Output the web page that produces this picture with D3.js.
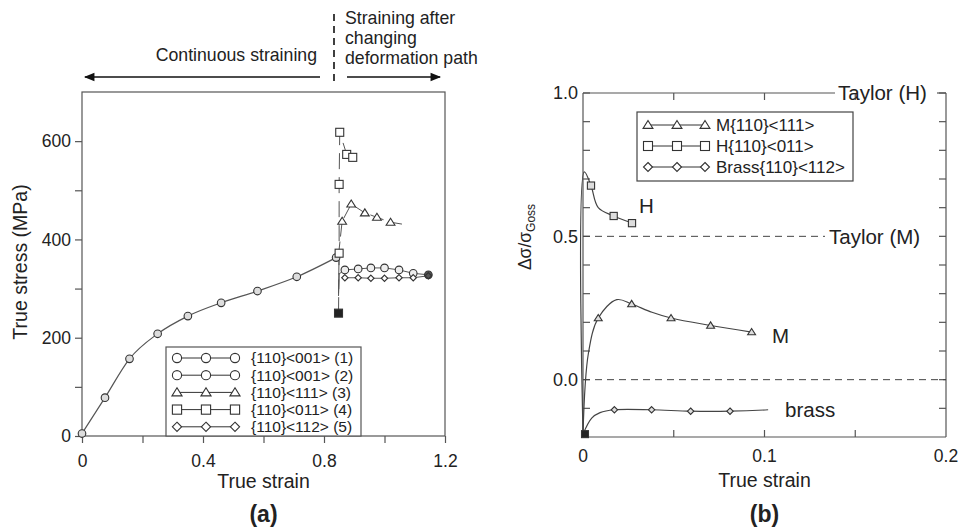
<!DOCTYPE html>
<html>
<head>
<script src="https://d3js.org/d3.v7.min.js"></script>
<style>
  body { margin: 0; background: #fff; font-family: "Liberation Sans", Arial, sans-serif; }
  svg text { fill: #222; }
</style>
</head>
<body>
<svg id="chart" width="960" height="531"></svg>
<script>
// ---------- data: panel (a) ----------
const contStrain = [0, 0.076, 0.157, 0.25, 0.35, 0.46, 0.58, 0.71, 0.84];
const contStress = [5, 78, 157, 208, 244, 271, 295, 324, 363];

const circStrain = [0.848, 0.85, 0.869, 0.913, 0.955, 1.0, 1.048, 1.095, 1.145];
const circStress = [285, 330, 338, 340, 342, 342, 338, 331, 328];

const diamStrain = [0.869, 0.913, 0.955, 1.0, 1.048, 1.095, 1.145];
const diamStress = [322, 322, 321, 321, 322, 322, 326];

const triStrain = [0.848, 0.85, 0.86, 0.89, 0.935, 0.975, 1.02, 1.06];
const triStress = [290, 380, 437, 472, 454, 445, 435, 431];
const triMarks = [false, false, true, true, true, true, true, false];

const sqStrain = [0.848, 0.85, 0.85, 0.852, 0.875, 0.895];
const sqStress = [250, 372, 512, 618, 573, 567];

const legendA = ["{110}<001> (1)", "{110}<001> (2)", "{110}<111> (3)", "{110}<011> (4)", "{110}<112> (5)"];
const legendAShapes = ["circle", "circle", "triangle", "square", "diamond"];

// ---------- data: panel (b) ----------
const hStrain = [0, 0.0007, 0.0044, 0.0084, 0.0169, 0.027, 0.0286];
const hRatio = [-0.19, 0.725, 0.677, 0.60, 0.571, 0.546, 0.541];
const hMarks = [false, false, true, false, true, true, false];

const mStrain = [0, 0.003, 0.0084, 0.0186, 0.0268, 0.038, 0.0485, 0.0703, 0.0929];
const mRatio = [-0.19, 0.093, 0.215, 0.279, 0.264, 0.235, 0.215, 0.189, 0.166];
const mMarks = [false, false, true, false, true, false, true, true, true];

const bStrain = [0, 0.0048, 0.0094, 0.0173, 0.0378, 0.0593, 0.081, 0.102];
const bRatio = [-0.19, -0.134, -0.115, -0.105, -0.105, -0.11, -0.11, -0.105];
const bMarks = [false, false, false, true, true, true, true, false];

const legendB = ["M{110}<111>", "H{110}<011>", "Brass{110}<112>"];
const legendBShapes = ["triangle", "square", "diamond"];

const svg = d3.select("#chart");
const lineCol = "#555", axisCol = "#555";

function zip(xs, ys) { return xs.map((x, i) => [x, ys[i]]); }

function marker(g, shape, cx, cy, s, fill) {
    fill = fill || "#fff";
    let el;
    if (shape === "circle") {
        el = g.append("circle").attr("cx", cx).attr("cy", cy).attr("r", s);
    } else if (shape === "square") {
        el = g.append("rect").attr("x", cx - s).attr("y", cy - s).attr("width", 2 * s).attr("height", 2 * s);
    } else if (shape === "triangle") {
        el = g.append("path").attr("d", `M${cx},${cy - s}L${cx + s * 1.1},${cy + s * 0.75}L${cx - s * 1.1},${cy + s * 0.75}Z`);
    } else {
        el = g.append("path").attr("d", `M${cx},${cy - s}L${cx + s},${cy}L${cx},${cy + s}L${cx - s},${cy}Z`);
    }
    el.attr("fill", fill).attr("stroke", "#333").attr("stroke-width", 1.1);
}

// =============== panel (a) ===============
const xA = d3.scaleLinear().domain([0, 1.2]).range([82, 445]);
const yA = d3.scaleLinear().domain([0, 700]).range([436, 92]);
const gA = svg.append("g");

// frame
gA.append("rect").attr("x", 82).attr("y", 92).attr("width", 445 - 82).attr("height", 436 - 92)
    .attr("fill", "none").attr("stroke", axisCol).attr("stroke-width", 1.2);

const axA = gA.append("g").attr("transform", "translate(0,436)")
    .call(d3.axisBottom(xA).tickValues([0, 0.2, 0.4, 0.6, 0.8, 1.0, 1.2]).tickSize(7).tickFormat(d => [0, 0.4, 0.8, 1.2].some(v => Math.abs(v - d) < 1e-9) ? d3.format("~g")(d) : ""));
axA.select(".domain").remove();
axA.selectAll("line").attr("stroke", axisCol).attr("stroke-width", 1.2);
axA.selectAll("text").attr("font-size", 17.5).attr("dy", "1.2em").style("fill", "#222");

const ayA = gA.append("g").attr("transform", "translate(82,0)")
    .call(d3.axisLeft(yA).tickValues([0, 100, 200, 300, 400, 500, 600]).tickSize(7).tickFormat(d => d % 200 === 0 ? d : ""));
ayA.select(".domain").remove();
ayA.selectAll("line").attr("stroke", axisCol).attr("stroke-width", 1.2);
ayA.selectAll("text").attr("font-size", 17.5).attr("x", -11).style("fill", "#222");

const lineA = d3.line().x(d => xA(d[0])).y(d => yA(d[1]));
const smoothA = d3.line().x(d => xA(d[0])).y(d => yA(d[1])).curve(d3.curveMonotoneX);

gA.append("path").attr("d", smoothA(zip(contStrain, contStress))).attr("fill", "none").attr("stroke", lineCol).attr("stroke-width", 1.2);
gA.append("path").attr("d", lineA(zip(circStrain, circStress))).attr("fill", "none").attr("stroke", lineCol).attr("stroke-width", 1);
gA.append("path").attr("d", lineA(zip(diamStrain, diamStress))).attr("fill", "none").attr("stroke", lineCol).attr("stroke-width", 1);
gA.append("path").attr("d", lineA(zip(triStrain, triStress))).attr("fill", "none").attr("stroke", lineCol).attr("stroke-width", 1).attr("stroke-dasharray", "14,5");
gA.append("path").attr("d", lineA(zip(sqStrain, sqStress))).attr("fill", "none").attr("stroke", lineCol).attr("stroke-width", 1).attr("stroke-dasharray", "16,8");

contStrain.forEach((s, i) => marker(gA, "circle", xA(s), yA(contStress[i]), 3.8, "#ddd"));
circStrain.forEach((s, i) => { if (i > 1) marker(gA, "circle", xA(s), yA(circStress[i]), 3.8, i === circStrain.length - 1 ? "#555" : "#eee"); });
diamStrain.forEach((s, i) => marker(gA, "diamond", xA(s), yA(diamStress[i]), 3.2, i === diamStrain.length - 1 ? "#555" : "#fff"));
triStrain.forEach((s, i) => { if (triMarks[i]) marker(gA, "triangle", xA(s), yA(triStress[i]), 4, "#fff"); });
sqStrain.forEach((s, i) => marker(gA, "square", xA(s), yA(sqStress[i]), 4, i === 0 ? "#222" : "#fff"));

// legend (a)
const legA = gA.append("g");
legA.append("rect").attr("x", 166).attr("y", 347).attr("width", 195).attr("height", 89)
    .attr("fill", "#fff").attr("stroke", axisCol).attr("stroke-width", 1.2);
legendA.forEach((lab, i) => {
    const y = 358 + i * 17.2;
    legA.append("line").attr("x1", 177).attr("x2", 235).attr("y1", y).attr("y2", y).attr("stroke", "#333").attr("stroke-width", 1);
    [177, 206, 235].forEach(x => marker(legA, legendAShapes[i], x, y, 4.6, "#fff"));
    legA.append("text").attr("x", 251).attr("y", y).attr("dy", "0.35em").attr("font-size", 15.5).text(lab);
});

gA.append("text").attr("x", xA(0.6)).attr("y", 488).attr("text-anchor", "middle").attr("font-size", 19.5).text("True strain");
gA.append("text").attr("transform", "translate(27,262) rotate(-90)").attr("text-anchor", "middle").attr("font-size", 19.5).text("True stress (MPa)");
gA.append("text").attr("x", xA(0.6)).attr("y", 522).attr("text-anchor", "middle").attr("font-size", 23).attr("font-weight", "bold").text("(a)");

// top annotation arrows
const defs = svg.append("defs");
defs.append("marker").attr("id", "arr").attr("viewBox", "0 0 10 10").attr("refX", 9).attr("refY", 5)
    .attr("markerWidth", 9).attr("markerHeight", 7).attr("orient", "auto-start-reverse")
    .append("path").attr("d", "M0,1L10,5L0,9Z").attr("fill", "#111");
gA.append("line").attr("x1", 320).attr("x2", 85).attr("y1", 77).attr("y2", 77).attr("stroke", "#111").attr("stroke-width", 1.5).attr("marker-end", "url(#arr)");
gA.append("line").attr("x1", 347).attr("x2", 440).attr("y1", 77).attr("y2", 77).attr("stroke", "#111").attr("stroke-width", 1.5).attr("marker-end", "url(#arr)");
gA.append("line").attr("x1", 334).attr("x2", 334).attr("y1", 14).attr("y2", 83).attr("stroke", "#111").attr("stroke-width", 1.6).attr("stroke-dasharray", "7,5");
gA.append("text").attr("x", 317).attr("y", 61).attr("text-anchor", "end").attr("font-size", 17.7).text("Continuous straining");
["Straining after", "changing", "deformation path"].forEach((t, i) =>
    gA.append("text").attr("x", 345).attr("y", 24 + i * 20).attr("font-size", 17.7).text(t));

// =============== panel (b) ===============
const xB = d3.scaleLinear().domain([0, 0.2]).range([583, 946]);
const yB = d3.scaleLinear().domain([-0.2, 1.0]).range([437, 93]);
const gB = svg.append("g");

// frame (top edge is Taylor (H) line, interrupted by its label)
gB.append("line").attr("x1", 583).attr("x2", 583).attr("y1", 93).attr("y2", 437).attr("stroke", axisCol).attr("stroke-width", 1.2);
gB.append("line").attr("x1", 583).attr("x2", 946).attr("y1", 437).attr("y2", 437).attr("stroke", axisCol).attr("stroke-width", 1.2);
gB.append("line").attr("x1", 946).attr("x2", 946).attr("y1", 93).attr("y2", 437).attr("stroke", axisCol).attr("stroke-width", 1.2);
gB.append("line").attr("x1", 583).attr("x2", 835).attr("y1", 93).attr("y2", 93).attr("stroke", axisCol).attr("stroke-width", 1.2);
gB.append("line").attr("x1", 937).attr("x2", 946).attr("y1", 93).attr("y2", 93).attr("stroke", axisCol).attr("stroke-width", 1.2);

const yTicksB = d3.range(-0.1, 1.0001, 0.1);
const xTicksB = [0.05, 0.1, 0.15];
yTicksB.forEach(v => {
    gB.append("line").attr("x1", 583).attr("x2", 590).attr("y1", yB(v)).attr("y2", yB(v)).attr("stroke", axisCol).attr("stroke-width", 1.2);
    gB.append("line").attr("x1", 939).attr("x2", 946).attr("y1", yB(v)).attr("y2", yB(v)).attr("stroke", axisCol).attr("stroke-width", 1.2);
});
xTicksB.forEach(v => {
    gB.append("line").attr("x1", xB(v)).attr("x2", xB(v)).attr("y1", 437).attr("y2", 430).attr("stroke", axisCol).attr("stroke-width", 1.2);
    gB.append("line").attr("x1", xB(v)).attr("x2", xB(v)).attr("y1", 93).attr("y2", 100).attr("stroke", axisCol).attr("stroke-width", 1.2);
});
[0, 0.5, 1.0].forEach(v => gB.append("text").attr("x", 578).attr("y", yB(v)).attr("dy", "0.35em").attr("text-anchor", "end").attr("font-size", 18).text(v.toFixed(1)));
[[0, "0"], [0.1, "0.1"], [0.2, "0.2"]].forEach(([v, t]) => gB.append("text").attr("x", xB(v)).attr("y", 462).attr("text-anchor", "middle").attr("font-size", 17.5).text(t));

// reference lines
gB.append("line").attr("x1", 583).attr("x2", 946).attr("y1", yB(0)).attr("y2", yB(0)).attr("stroke", "#444").attr("stroke-width", 1).attr("stroke-dasharray", "7,5");
gB.append("line").attr("x1", 583).attr("x2", 825).attr("y1", yB(0.5)).attr("y2", yB(0.5)).attr("stroke", "#444").attr("stroke-width", 1).attr("stroke-dasharray", "7,5");
gB.append("text").attr("x", 829).attr("y", yB(0.5)).attr("dy", "0.35em").attr("font-size", 20.5).text("Taylor (M)");
gB.append("text").attr("x", 838).attr("y", yB(1.0)).attr("dy", "0.35em").attr("font-size", 20.5).text("Taylor (H)");

const smoothB = d3.line().x(d => xB(d[0])).y(d => yB(d[1])).curve(d3.curveCatmullRom.alpha(0.5));
[[hStrain, hRatio, hMarks, "square", 3.6], [mStrain, mRatio, mMarks, "triangle", 3.6], [bStrain, bRatio, bMarks, "diamond", 3.2]].forEach(([xs, ys, mk, shape, s]) => {
    gB.append("path").attr("d", smoothB(zip(xs, ys))).attr("fill", "none").attr("stroke", "#444").attr("stroke-width", 1.2);
    xs.forEach((x, i) => { if (mk[i]) marker(gB, shape, xB(x), yB(ys[i]), s, "#ddd"); });
});
marker(gB, "square", xB(0) + 2, yB(-0.19), 3.5, "#222");

gB.append("text").attr("x", 639).attr("y", 213).attr("font-size", 20.5).text("H");
gB.append("text").attr("x", 772).attr("y", 343).attr("font-size", 20.5).text("M");
gB.append("text").attr("x", 785).attr("y", 417).attr("font-size", 20.5).text("brass");

// legend (b)
const legB = gB.append("g");
legB.append("rect").attr("x", 637).attr("y", 112).attr("width", 216).attr("height", 69)
    .attr("fill", "#fff").attr("stroke", "#444").attr("stroke-width", 1.2);
legendB.forEach((lab, i) => {
    const y = 125 + i * 21;
    legB.append("line").attr("x1", 648).attr("x2", 705).attr("y1", y).attr("y2", y).attr("stroke", "#333").attr("stroke-width", 1);
    [648, 677, 705].forEach(x => marker(legB, legendBShapes[i], x, y, 4.5, "#fff"));
    legB.append("text").attr("x", 716).attr("y", y).attr("dy", "0.35em").attr("font-size", 17).text(lab);
});

gB.append("text").attr("x", xB(0.1)).attr("y", 487).attr("text-anchor", "middle").attr("font-size", 19.5).text("True strain");
const yl = gB.append("text").attr("transform", "translate(531,237) rotate(-90)").attr("text-anchor", "middle").attr("font-size", 17.5);
yl.append("tspan").text("Δσ/σ");
yl.append("tspan").attr("font-size", 12).attr("dy", 4).text("Goss");
gB.append("text").attr("x", xB(0.1)).attr("y", 522).attr("text-anchor", "middle").attr("font-size", 23).attr("font-weight", "bold").text("(b)");
</script>
</body>
</html>
